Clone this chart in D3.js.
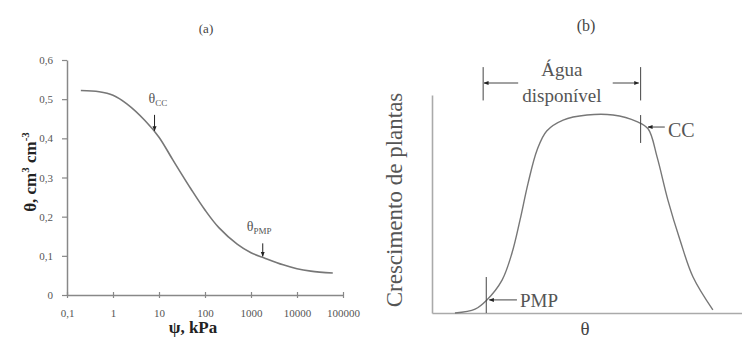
<!DOCTYPE html>
<html>
<head>
<meta charset="utf-8">
<script src="https://cdn.jsdelivr.net/npm/d3@7"></script>
<style>
  body { margin: 0; background: #fff; }
  svg text { font-family: "Liberation Serif", "Times New Roman", serif; }
</style>
</head>
<body>
<svg id="chart" width="742" height="338"></svg>
<script>
// (a) retention curve: water content vs matric potential
const psiKPa = [0.2, 0.5, 1, 2, 5, 10, 20, 50, 100, 200, 500, 1000, 2000, 5000, 10000, 20000, 60000];
const thetaA = [0.522, 0.519, 0.51, 0.488, 0.445, 0.403, 0.345, 0.27, 0.217, 0.172, 0.13, 0.108, 0.094, 0.077, 0.067, 0.061, 0.056];
const xTicksA = [0.1, 1, 10, 100, 1000, 10000, 100000];
const yTicksA = [0, 0.1, 0.2, 0.3, 0.4, 0.5, 0.6];
const ccPsi = 8, pmpPsi = 1800;

// (b) plant growth vs water content (relative units)
const thetaB = [7.4, 13.9, 17.7, 22.6, 25.8, 28.4, 31.0, 33.9, 37.0, 42.3, 50.0, 58.4, 66.1, 69.7, 72.6, 76.1, 80.0, 84.2, 90.6];
const growth = [0, 1.8, 6.0, 15.1, 27.5, 42.7, 59.6, 74.8, 83.5, 88.5, 90.8, 90.8, 87.8, 84.5, 71.6, 51.8, 33.5, 16.5, 1.4];
const pmpB = 17.9, ccB = 67.3, bracketL = 16.5;

const svg = d3.select("#chart");
const lineCol = "#777", axisCol = "#888";

// arrow head
const defs = svg.append("defs");
defs.append("marker").attr("id", "head")
  .attr("viewBox", "0 0 10 10").attr("refX", 9).attr("refY", 5)
  .attr("markerWidth", 5).attr("markerHeight", 5).attr("orient", "auto")
  .append("path").attr("d", "M0,1 L10,5 L0,9 Z").attr("fill", "#222");

// ---------- panel (a)
const xA = d3.scaleLog().domain([0.1, 100000]).range([67, 343]);
const yA = d3.scaleLinear().domain([0, 0.6]).range([295, 60]);
const gA = svg.append("g");

const comma = v => String(v).replace(".", ",");

const yAxisA = gA.append("g").attr("transform", `translate(${xA(0.1)},0)`)
  .call(d3.axisLeft(yA).tickValues(yTicksA).tickSizeInner(5).tickSizeOuter(0).tickPadding(9)
    .tickFormat(d => d === 0 ? "0" : comma(d3.format(".1f")(d))));
const xAxisA = gA.append("g").attr("transform", `translate(0,${yA(0)})`)
  .call(d3.axisBottom(xA).tickValues(xTicksA).tickSizeOuter(0).tickFormat(comma));

[yAxisA, xAxisA].forEach(ax => {
  ax.select(".domain").attr("stroke", axisCol).attr("stroke-width", 1.5);
  ax.selectAll(".tick line").attr("stroke", axisCol).attr("stroke-width", 1.2);
  ax.selectAll(".tick text").attr("fill", "#555").style("font-size", "11px");
});
xAxisA.selectAll(".tick line").attr("y1", -3).attr("y2", 3);
xAxisA.selectAll(".tick text").attr("y", 14);

const lineA = d3.line().x(d => xA(d[0])).y(d => yA(d[1])).curve(d3.curveCatmullRom.alpha(0.5));
gA.append("path")
  .datum(psiKPa.map((p, i) => [p, thetaA[i]]))
  .attr("fill", "none").attr("stroke", lineCol).attr("stroke-width", 1.6)
  .attr("d", lineA);

const interpA = p => {
  const l = Math.log10(p);
  const i = d3.bisectRight(psiKPa, p) - 1;
  const l0 = Math.log10(psiKPa[i]), l1 = Math.log10(psiKPa[i + 1]);
  return thetaA[i] + (thetaA[i + 1] - thetaA[i]) * (l - l0) / (l1 - l0);
};

// θcc / θpmp arrows
[[ccPsi, "CC", 16, -6], [pmpPsi, "PMP", 13, -16]].forEach(([p, sub, len, dx]) => {
  const x = xA(p), y = yA(interpA(p)) - 1;
  gA.append("line").attr("x1", x).attr("x2", x).attr("y1", y - len).attr("y2", y)
    .attr("stroke", "#222").attr("stroke-width", 1).attr("marker-end", "url(#head)");
  const t = gA.append("text").attr("x", x + dx).attr("y", y - len - 12)
    .attr("fill", "#555").style("font-size", "14px");
  t.append("tspan").text("θ");
  t.append("tspan").attr("dy", 3).style("font-size", "9px").text(sub);
});

gA.append("text").attr("x", 206).attr("y", 33).attr("text-anchor", "middle")
  .attr("fill", "#444").style("font-size", "13px").text("(a)");

gA.append("text").attr("x", 193).attr("y", 333).attr("text-anchor", "middle")
  .attr("fill", "#222").style("font-size", "17px").style("font-weight", "bold").text("ψ, kPa");

const yl = gA.append("text").attr("transform", "translate(36,172) rotate(-90)")
  .attr("text-anchor", "middle").attr("fill", "#222")
  .style("font-size", "17px").style("font-weight", "bold");
yl.append("tspan").text("θ, cm");
yl.append("tspan").attr("dy", -7).style("font-size", "11px").text("3");
yl.append("tspan").attr("dy", 7).text(" cm");
yl.append("tspan").attr("dy", -7).style("font-size", "11px").text("-3");

// ---------- panel (b)
const xB = d3.scaleLinear().domain([0, 100]).range([432, 742]);
const yB = d3.scaleLinear().domain([0, 100]).range([313, 95]);
const gB = svg.append("g");

const yAxisB = gB.append("g").attr("transform", `translate(${xB(0)},0)`)
  .call(d3.axisLeft(yB).tickValues([]).tickSizeOuter(0));
const xAxisB = gB.append("g").attr("transform", `translate(0,${yB(0)})`)
  .call(d3.axisBottom(xB).tickValues([]).tickSizeOuter(0));
[yAxisB, xAxisB].forEach(ax => ax.select(".domain").attr("stroke", "#aaa").attr("stroke-width", 1.6));

gB.append("path")
  .datum(thetaB.map((t, i) => [t, growth[i]]))
  .attr("fill", "none").attr("stroke", lineCol).attr("stroke-width", 1.4)
  .attr("d", d3.line().x(d => xB(d[0])).y(d => yB(d[1])).curve(d3.curveCatmullRom.alpha(0.5)));

const seg = (x1, y1, x2, y2, arrow) => {
  const l = gB.append("line").attr("x1", xB(x1)).attr("y1", yB(y1)).attr("x2", xB(x2)).attr("y2", yB(y2))
    .attr("stroke", "#444").attr("stroke-width", 1);
  if (arrow) l.attr("marker-end", "url(#head)");
};

// água disponível bracket
seg(bracketL, 112.8, bracketL, 97.5);
seg(ccB, 112.8, ccB, 97.5);
seg(bracketL + 11.3, 105.5, bracketL + 0.3, 105.5, true);
seg(ccB - 9, 105.5, ccB - 0.6, 105.5, true);
gB.append("text").attr("x", xB((bracketL + ccB) / 2)).attr("y", yB(108.5)).attr("text-anchor", "middle")
  .attr("fill", "#555").style("font-size", "19px").text("Água");
gB.append("text").attr("x", xB((bracketL + ccB) / 2)).attr("y", yB(97)).attr("text-anchor", "middle")
  .attr("fill", "#555").style("font-size", "19px").text("disponível");

// CC
seg(ccB, 90.8, ccB, 78);
seg(ccB + 7.8, 85.3, ccB + 2.4, 85.3, true);
gB.append("text").attr("x", xB(ccB + 8.8)).attr("y", yB(80.8)).attr("fill", "#555")
  .style("font-size", "20px").text("CC");

// PMP
seg(pmpB - 0.4, 16.5, pmpB - 0.4, 0);
seg(pmpB + 9.5, 6, pmpB + 0.6, 6, true);
gB.append("text").attr("x", xB(pmpB + 10.5)).attr("y", yB(2.8)).attr("fill", "#555")
  .style("font-size", "19px").text("PMP");

gB.append("text").attr("x", 586).attr("y", 31).attr("text-anchor", "middle")
  .attr("fill", "#444").style("font-size", "16px").text("(b)");
gB.append("text").attr("x", 585).attr("y", 335).attr("text-anchor", "middle")
  .attr("fill", "#444").style("font-size", "19px").text("θ");
gB.append("text").attr("transform", "translate(402,200) rotate(-90)").attr("text-anchor", "middle")
  .attr("fill", "#555").style("font-size", "23px").text("Crescimento de plantas");
</script>
</body>
</html>
